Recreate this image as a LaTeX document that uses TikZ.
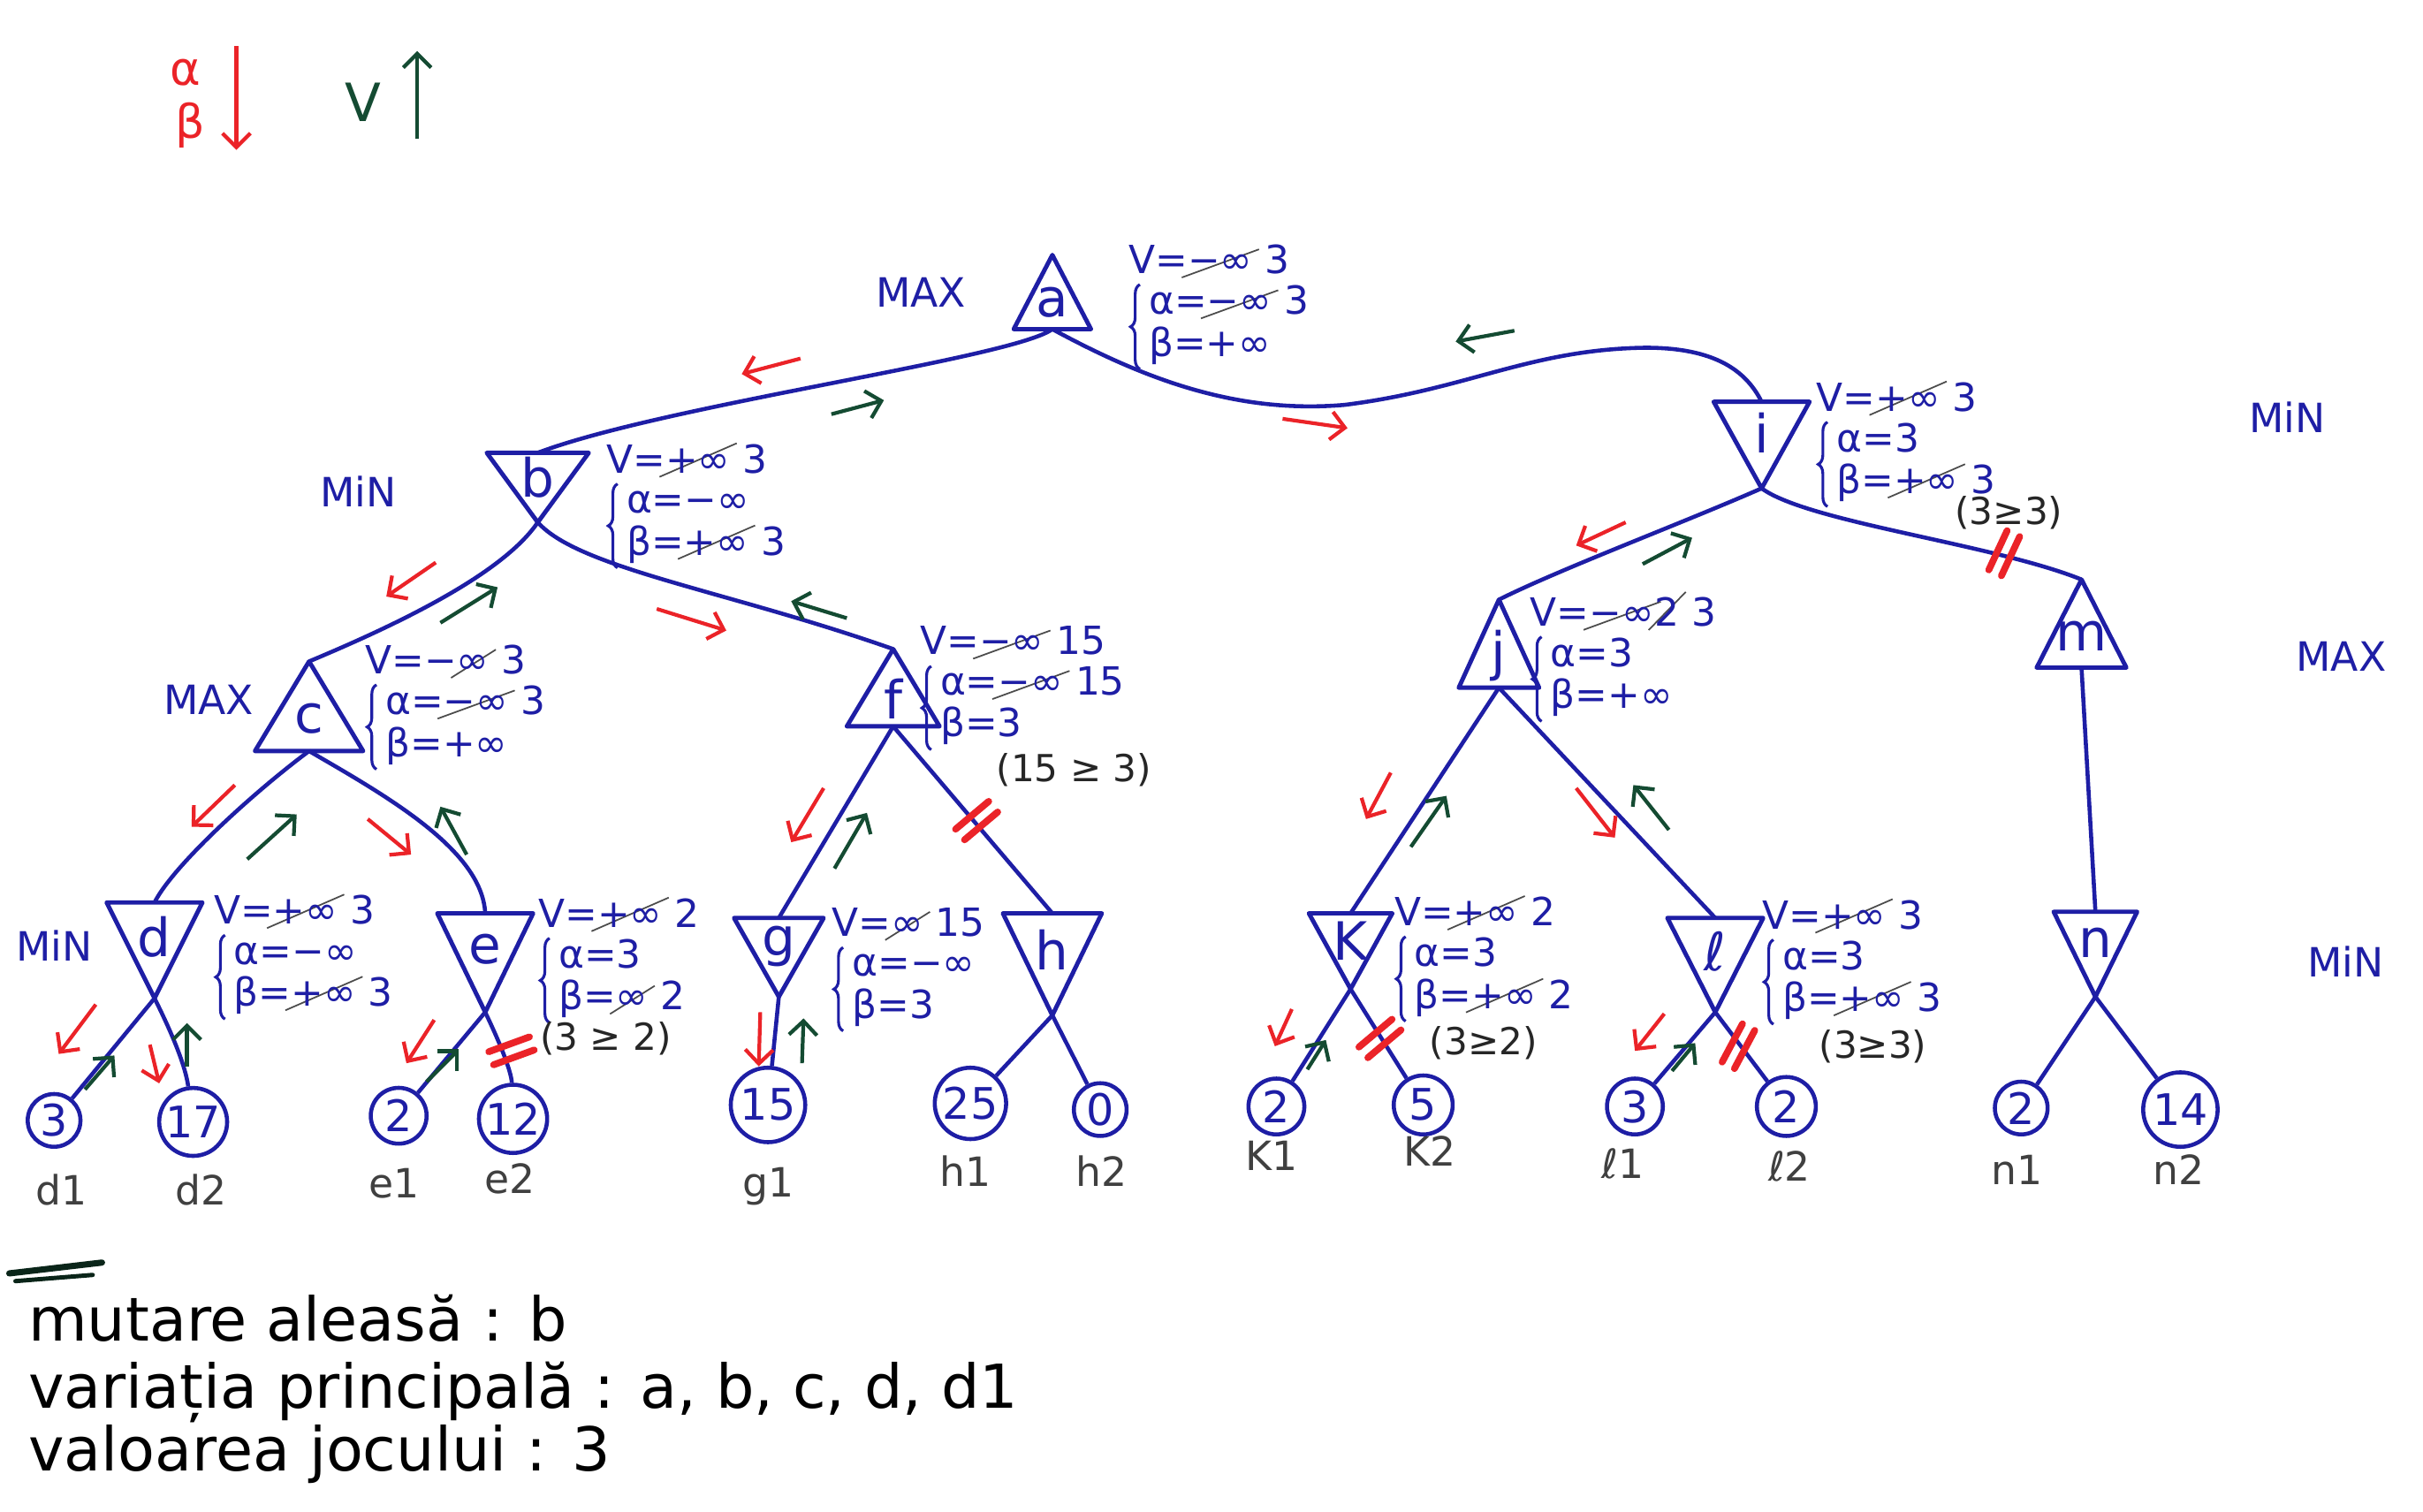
\documentclass[tikz,border=0pt]{standalone}
\usepackage{fontspec}
\usepackage{graphicx}
\setmainfont{DejaVu Sans}
\usetikzlibrary{arrows.meta,decorations.pathreplacing}

\definecolor{ink}{RGB}{30,30,165}
\definecolor{redink}{RGB}{235,35,40}
\definecolor{greenink}{RGB}{20,75,50}

% value written and then struck through with a slanted line
\newsavebox\xsbox
\newlength\xsw
\newlength\xsh
\newcommand\xs[1]{\sbox\xsbox{#1}%
  \setlength\xsw{\wd\xsbox}\addtolength\xsw{4pt}%
  \setlength\xsh{\ht\xsbox}\addtolength\xsh{\dp\xsbox}\addtolength\xsh{3pt}%
  \pgfmathsetmacro\xsang{atan2(\xsh,\xsw)}%
  \pgfmathsetmacro\xslen{veclen(\xsw,\xsh)}%
  \rlap{\kern-2pt\smash{\raisebox{\dimexpr-\dp\xsbox-1.5pt\relax}{\rotatebox[origin=lb]{\xsang}{\textcolor{black!70}{\rule{\xslen pt}{0.5pt}}}}}}\usebox\xsbox}

% MAX node: triangle pointing up; #2,#3 apex, #4 half width, #5 height
\newcommand\MaxT[6]{%
  \coordinate (#1-top) at (#2,#3);
  \coordinate (#1-bot) at (#2,{#3+#5});
  \draw[tri] (#1-top) -- ({#2-#4},{#3+#5}) -- ({#2+#4},{#3+#5}) -- cycle;
  \node[letter] (#1) at (#2,{#3+0.64*#5}) {#6};
}
% MIN node: triangle pointing down; #2,#3 middle of top side
\newcommand\MinT[6]{%
  \coordinate (#1-top) at (#2,#3);
  \coordinate (#1-bot) at (#2,{#3+#5});
  \draw[tri] ({#2-#4},#3) -- ({#2+#4},#3) -- (#1-bot) -- cycle;
  \node[letter] (#1) at (#2,{#3+0.36*#5}) {#6};
}
% v, alpha, beta bookkeeping next to a node, alpha and beta held by a brace
\newcommand\AnnBox[5]{%
  \node[ann] (#1) at (#2) {\begin{tabular}{@{}l@{}}#3\\\hspace{6.5pt}#4\\\hspace{6.5pt}#5\end{tabular}};
  \draw[curly] ([shift={(3.8pt,0pt)}]#1.south west) -- ([shift={(3.8pt,-13pt)}]#1.north west);
}
% pruned branch: two short red strokes
\newcommand\PruneMark[3]{%
  \begin{scope}[shift={(#1,#2)},rotate=#3]
    \draw[cutmark] (-14,-4.5) -- (14,-4.5);
    \draw[cutmark] (-14,4.5) -- (14,4.5);
  \end{scope}
}

\begin{document}
\begin{tikzpicture}[x=0.0175cm,y=-0.0175cm,
  tri/.style={draw=ink,line width=1.4pt,line join=round},
  link/.style={draw=ink,line width=1.3pt},
  letter/.style={text=ink,inner sep=0pt,font=\fontsize{17}{17}\selectfont},
  leaf/.style={circle,draw=ink,line width=1.3pt,text=ink,inner sep=0.5pt,font=\fontsize{14}{14}\selectfont},
  sidelbl/.style={text=ink,inner sep=0pt,font=\fontsize{13}{13}\selectfont},
  ann/.style={text=ink,inner sep=0pt,anchor=north west,font=\fontsize{12.5}{13}\selectfont},
  curly/.style={draw=ink,line width=0.9pt,decorate,decoration={brace,amplitude=3pt}},
  note/.style={text=black!85,inner sep=0pt,font=\fontsize{12}{12}\selectfont},
  lbl/.style={text=black!75,inner sep=0pt,font=\fontsize{13}{13}\selectfont},
  passdown/.style={draw=redink,line width=1.2pt,-{Straight Barb[length=4.5pt,width=9pt]}},
  passup/.style={draw=greenink,line width=1.2pt,-{Straight Barb[length=4.5pt,width=9pt]}},
  cutmark/.style={draw=redink,line width=2.2pt,line cap=round},
  summary/.style={text=black,inner sep=0pt,anchor=base west,font=\fontsize{19.5}{19.5}\selectfont},
]
\useasboundingbox (0,0) rectangle (1568,978);
\fill[white] (0,0) rectangle (1568,978);

% legend
\node[text=redink,inner sep=0pt,font=\fontsize{15}{15}\selectfont] (lg-alpha) at (120,47) {α};
\node[text=redink,inner sep=0pt,font=\fontsize{15}{15}\selectfont] (lg-beta) at (123,81) {β};
\draw[passdown] (153,30) -- (153,97);
\node[text=greenink,inner sep=0pt,font=\fontsize{17}{17}\selectfont] (lg-v) at (235,66) {V};
\draw[passup] (270,90) -- (270,33);

% tree nodes
\MaxT{a}{681}{165}{25}{48}{a}
\MinT{b}{348}{293}{33}{45}{b}
\MaxT{c}{200}{428}{35}{58}{c}
\MinT{d}{100}{584}{31}{62}{d}
\MinT{e}{314}{591}{31}{64}{e}
\MaxT{f}{578}{420}{30}{50}{f}
\MinT{g}{504}{594}{29}{51}{g}
\MinT{h}{681}{591}{32}{66}{h}
\MinT{i}{1140}{260}{31}{56}{i}
\MaxT{j}{970}{388}{26}{57}{j}
\MinT{k}{874}{591}{27}{49}{K}
\MinT{l}{1110}{594}{31}{61}{ℓ}
\MaxT{m}{1347}{375}{29}{57}{m}
\MinT{n}{1356}{590}{27}{55}{n}

% leaves
\node[leaf,minimum size=17pt] (d1) at (35,725) {3};
\node[leaf,minimum size=21pt] (d2) at (125,726) {17};
\node[leaf,minimum size=18pt] (e1) at (258,722) {2};
\node[leaf,minimum size=20pt] (e2) at (332,724) {12};
\node[leaf,minimum size=24pt] (g1) at (497,715) {15};
\node[leaf,minimum size=23pt] (h1) at (628,714) {25};
\node[leaf,minimum size=17pt] (h2) at (712,718) {0};
\node[leaf,minimum size=18pt] (k1) at (826,716) {2};
\node[leaf,minimum size=19pt] (k2) at (921,715) {5};
\node[leaf,minimum size=18pt] (l1) at (1058,716) {3};
\node[leaf,minimum size=19pt] (l2) at (1156,716) {2};
\node[leaf,minimum size=17pt] (n1) at (1308,717) {2};
\node[leaf,minimum size=24pt] (n2) at (1411,718) {14};

% branches
\draw[link] (a-bot) .. controls (655,232) and (430,262) .. (b-top);
\draw[link] (a-bot) .. controls (740,245) and (800,268) .. (870,262)
            .. controls (950,252) and (990,226) .. (1065,225)
            .. controls (1110,225) and (1130,240) .. (i-top);
\draw[link] (b-bot) .. controls (325,372) and (255,405) .. (c-top);
\draw[link] (b-bot) .. controls (375,368) and (470,382) .. (f-top);
\draw[link] (c-bot) .. controls (165,512) and (112,560) .. (d-top);
\draw[link] (c-bot) .. controls (250,515) and (312,550) .. (e-top);
\draw[link] (d-bot) -- (d1);
\draw[link] (d-bot) .. controls (112,670) and (120,690) .. (d2);
\draw[link] (e-bot) -- (e1);
\draw[link] (e-bot) .. controls (326,680) and (331,695) .. (e2);
\draw[link] (f-bot) -- (g-top);
\draw[link] (f-bot) -- (h-top);
\draw[link] (g-bot) -- (g1);
\draw[link] (h-bot) -- (h1);
\draw[link] (h-bot) -- (h2);
\draw[link] (i-bot) .. controls (1090,338) and (1010,368) .. (j-top);
\draw[link] (i-bot) .. controls (1170,338) and (1290,352) .. (m-top);
\draw[link] (j-bot) -- (k-top);
\draw[link] (j-bot) -- (l-top);
\draw[link] (k-bot) -- (k1);
\draw[link] (k-bot) -- (k2);
\draw[link] (l-bot) -- (l1);
\draw[link] (l-bot) -- (l2);
\draw[link] (m-bot) -- (n-top);
\draw[link] (n-bot) -- (n1);
\draw[link] (n-bot) -- (n2);

% pruned branches
\PruneMark{331}{680}{20}
\PruneMark{632}{531}{40}
\PruneMark{1297}{358}{65}
\PruneMark{893}{672}{40}
\PruneMark{1125}{677}{62}

% alpha/beta passed down, values passed up
\draw[passdown] (518,232) -- (480,242);
\draw[passup] (538,268) -- (572,259);
\draw[passdown] (830,271) -- (872,277);
\draw[passup] (980,214) -- (942,221);
\draw[passdown] (282,364) -- (250,386);
\draw[passup] (285,403) -- (322,380);
\draw[passdown] (425,394) -- (470,408);
\draw[passup] (548,400) -- (512,389);
\draw[passdown] (152,508) -- (124,535);
\draw[passup] (160,556) -- (192,527);
\draw[passdown] (238,530) -- (266,553);
\draw[passup] (302,553) -- (285,522);
\draw[passdown] (62,650) -- (38,682);
\draw[passup] (55,705) -- (74,683);
\draw[passdown] (97,676) -- (103,701);
\draw[passup] (121,690) -- (121,662);
\draw[passdown] (281,660) -- (263,688);
\draw[passup] (276,700) -- (297,679);
\draw[passdown] (533,510) -- (512,545);
\draw[passup] (540,562) -- (561,526);
\draw[passdown] (492,655) -- (491,690);
\draw[passup] (519,688) -- (520,659);
\draw[passdown] (1052,338) -- (1020,353);
\draw[passup] (1063,365) -- (1095,348);
\draw[passdown] (900,500) -- (884,530);
\draw[passup] (913,548) -- (936,515);
\draw[passdown] (1020,510) -- (1045,542);
\draw[passup] (1080,537) -- (1057,508);
\draw[passdown] (836,653) -- (825,677);
\draw[passup] (846,692) -- (858,673);
\draw[passdown] (1077,656) -- (1058,680);
\draw[passup] (1082,693) -- (1097,675);

% MIN / MAX levels
\node[sidelbl] (lv-a) at (596,189) {MAX};
\node[sidelbl] (lv-b) at (232,318) {MiN};
\node[sidelbl] (lv-c) at (135,453) {MAX};
\node[sidelbl] (lv-d) at (35,612) {MiN};
\node[sidelbl] (lv-i) at (1480,270) {MiN};
\node[sidelbl] (lv-m) at (1515,425) {MAX};
\node[sidelbl] (lv-n) at (1518,622) {MiN};

% bookkeeping
\AnnBox{a-ann}{730,158}{V=\xs{−∞} 3}{α=\xs{−∞} 3}{β=+∞}
\AnnBox{b-ann}{392,287}{V=\xs{+∞} 3}{α=−∞}{β=\xs{+∞} 3}
\AnnBox{c-ann}{236,417}{V=−\xs{∞} 3}{α=\xs{−∞} 3}{β=+∞}
\AnnBox{d-ann}{138,579}{V=\xs{+∞} 3}{α=−∞}{β=\xs{+∞} 3}
\AnnBox{e-ann}{348,581}{V=\xs{+∞} 2}{α=3}{β=\xs{∞} 2}
\AnnBox{f-ann}{595,405}{V=\xs{−∞} 15}{α=\xs{−∞} 15}{β=3}
\AnnBox{g-ann}{538,587}{V=\xs{∞} 15}{α=−∞}{β=3}
\AnnBox{i-ann}{1175,247}{V=\xs{+∞} 3}{α=3}{β=\xs{+∞} 3}
\AnnBox{j-ann}{990,386}{V=\xs{−∞}\xs{2} 3}{α=3}{β=+∞}
\AnnBox{k-ann}{902,580}{V=\xs{+∞} 2}{α=3}{β=\xs{+∞} 2}
\AnnBox{l-ann}{1140,582}{V=\xs{+∞} 3}{α=3}{β=\xs{+∞} 3}

\node[note] (f-note) at (695,498) {(15 ≥ 3)};
\node[note] (e-note) at (392,672) {(3 ≥ 2)};
\node[note] (i-note) at (1300,332) {(3≥3)};
\node[note] (k-note) at (960,675) {(3≥2)};
\node[note] (l-note) at (1212,677) {(3≥3)};

% leaf names
\node[lbl] (d1-lbl) at (40,770) {d1};
\node[lbl] (d2-lbl) at (130,770) {d2};
\node[lbl] (e1-lbl) at (255,766) {e1};
\node[lbl] (e2-lbl) at (330,763) {e2};
\node[lbl] (g1-lbl) at (497,768) {g1};
\node[lbl] (h1-lbl) at (625,758) {h1};
\node[lbl] (h2-lbl) at (713,758) {h2};
\node[lbl] (k1-lbl) at (823,748) {K1};
\node[lbl] (k2-lbl) at (925,745) {K2};
\node[lbl] (l1-lbl) at (1050,753) {ℓ1};
\node[lbl] (l2-lbl) at (1158,755) {ℓ2};
\node[lbl] (n1-lbl) at (1305,757) {n1};
\node[lbl] (n2-lbl) at (1410,757) {n2};

% summary
\draw[greenink!50!black,line width=2pt,line cap=round] (6,824) -- (66,817);
\draw[greenink!50!black,line width=1.4pt,line cap=round] (10,829) -- (60,825);
\node[summary] (s1) at (18,868) {mutare aleasă : b};
\node[summary] (s2) at (18,911) {variația principală : a, b, c, d, d1};
\node[summary] (s3) at (18,952) {valoarea jocului : 3};
\end{tikzpicture}
\end{document}
